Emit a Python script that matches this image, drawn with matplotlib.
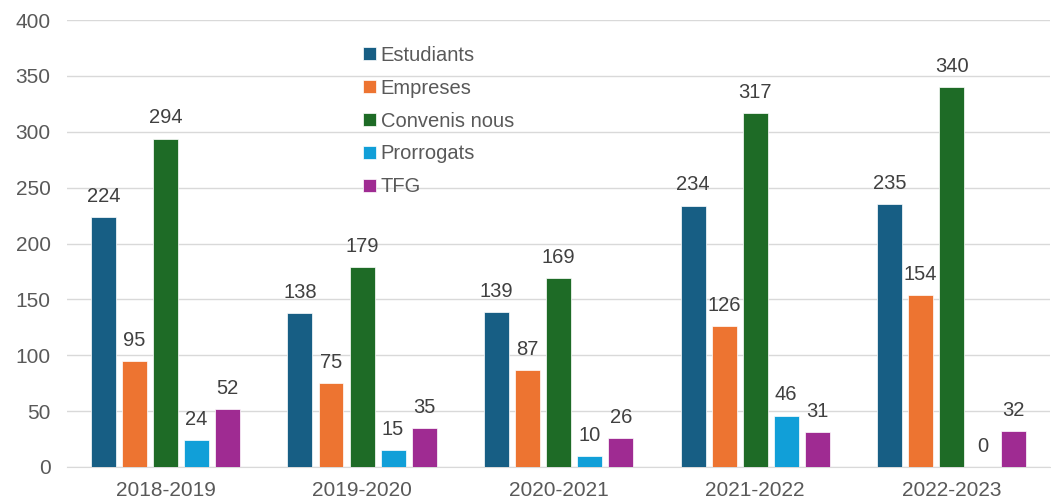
import matplotlib

matplotlib.use("Agg")
import matplotlib.pyplot as plt
import numpy as np

plt.rcParams["font.family"] = ["Liberation Sans", "DejaVu Sans"]

YEARS = ["2018-2019", "2019-2020", "2020-2021", "2021-2022", "2022-2023"]
SERIES = ["Estudiants", "Empreses", "Convenis nous", "Prorrogats", "TFG"]
ESTUDIANTS = [224, 138, 139, 234, 235]
EMPRESES = [95, 75, 87, 126, 154]
CONVENIS = [294, 179, 169, 317, 340]
PRORROGATS = [24, 15, 10, 46, 0]
TFG = [52, 35, 26, 31, 32]

COLORS = ["#175E84", "#ED7431", "#1E6B26", "#119FD8", "#9F2B92"]

fig = plt.figure(figsize=(10.51, 5.03), dpi=100)
ax = fig.add_axes([0.064, 0.0716, 0.935, 0.8885])

x = np.arange(len(YEARS))
pitch = 0.158
width = 0.127
for i, (name, vals, col) in enumerate(zip(SERIES, [ESTUDIANTS, EMPRESES, CONVENIS, PRORROGATS, TFG], COLORS)):
    pos = x + (i - 2) * pitch
    ax.bar(pos, vals, width=width, color=col, label=name, edgecolor="white", linewidth=0.5, zorder=3)
    for px, v in zip(pos, vals):
        ax.annotate(str(v), (px, v), xytext=(0, 8), textcoords="offset points",
                    ha="center", va="bottom", fontsize=14.5, color="#404040")

ax.set_xlim(-0.5, len(YEARS) - 0.5)
ax.set_ylim(0, 400)
ax.set_yticks(range(0, 401, 50))
ax.set_xticks(x, YEARS)
ax.grid(axis="y", color="#d9d9d9", lw=1, zorder=0)
for s in ["top", "right", "left"]:
    ax.spines[s].set_visible(False)
ax.spines["bottom"].set_color("#d9d9d9")
ax.tick_params(axis="both", length=0, labelsize=15, colors="#595959")
ax.tick_params(axis="x", pad=10)
ax.tick_params(axis="y", pad=12)

ax.legend(loc="upper left", bbox_to_anchor=(0.283, 0.983), frameon=False, fontsize=14.5,
          handlelength=0.6, handleheight=0.6, handletextpad=0.25, labelspacing=0.69,
          labelcolor="#595959")

fig.savefig("out.png", dpi=100)
